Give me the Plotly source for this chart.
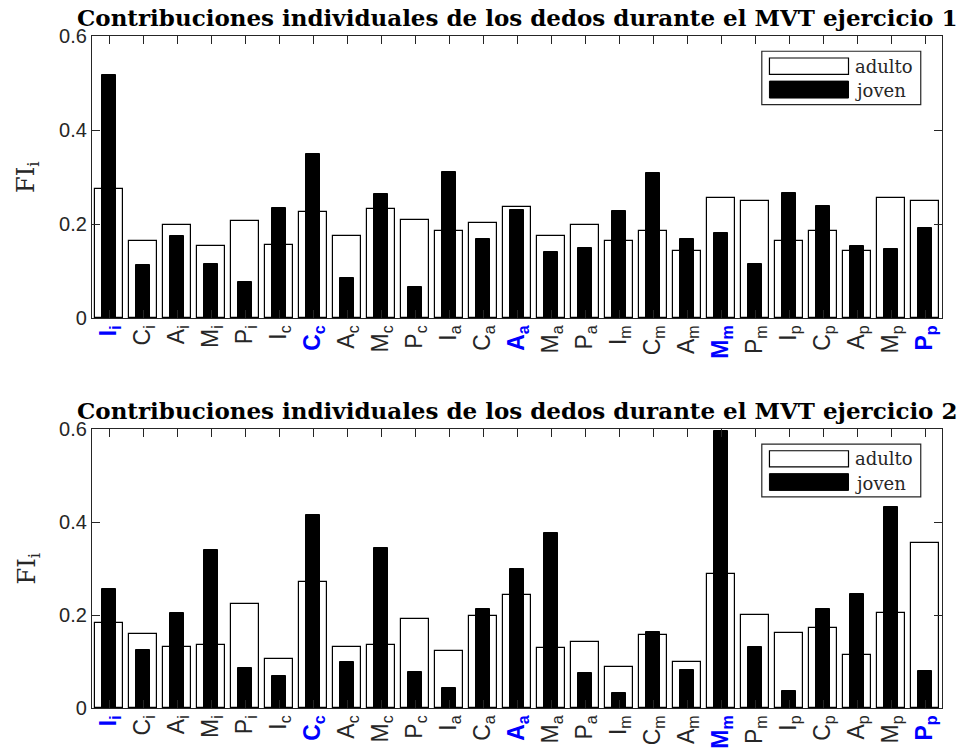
import plotly.graph_objects as go

# ---------------- data ----------------
dedos = ["I", "C", "A", "M", "P"]
subs = ["i", "c", "a", "m", "p"]
categorias = list(range(1, 26))

adulto1 = [0.274, 0.163, 0.197, 0.153, 0.207, 0.155, 0.225, 0.174, 0.232, 0.208,
           0.185, 0.203, 0.236, 0.174, 0.197, 0.163, 0.186, 0.142, 0.255, 0.250,
           0.163, 0.186, 0.142, 0.255, 0.250]
joven1 = [0.517, 0.112, 0.175, 0.115, 0.077, 0.234, 0.348, 0.085, 0.264, 0.067,
          0.311, 0.168, 0.229, 0.141, 0.149, 0.227, 0.308, 0.168, 0.180, 0.114,
          0.266, 0.239, 0.154, 0.146, 0.192]
adulto2 = [0.183, 0.160, 0.132, 0.136, 0.224, 0.106, 0.271, 0.132, 0.135, 0.191,
           0.123, 0.198, 0.243, 0.129, 0.142, 0.089, 0.156, 0.099, 0.289, 0.200,
           0.161, 0.172, 0.114, 0.204, 0.354]
joven2 = [0.255, 0.124, 0.204, 0.339, 0.086, 0.069, 0.415, 0.099, 0.345, 0.078,
          0.044, 0.212, 0.299, 0.377, 0.075, 0.033, 0.163, 0.082, 0.596, 0.132,
          0.037, 0.212, 0.246, 0.432, 0.079]

titulos = ["Contribuciones individuales de los dedos durante el MVT ejercicio 1",
           "Contribuciones individuales de los dedos durante el MVT ejercicio 2"]
ytick_vals = [0, 0.2, 0.4, 0.6]
ytick_text = ["0", "0.2", "0.4", "0.6"]

# tick labels
tick_labels = []
for s in subs:
    for d in dedos:
        if d.lower() == s:
            tick_labels.append(
                "<b><span style='color:#0000ff'>%s<sub>%s</sub></span></b>" % (d, s))
        else:
            tick_labels.append("%s<sub>%s</sub>" % (d, s))

# ---------------- figure ----------------
W, H = 964, 751
ML, MR, MT, MB = 92, 22, 36, 43
PH = H - MT - MB
AX = "#262626"

def ydom(top_px, bot_px):
    return [(H - MB - bot_px) / PH, (H - MB - top_px) / PH]

fig = go.Figure()

series = [(adulto1, joven1, "x", "y"), (adulto2, joven2, "x2", "y2")]
for k, (ad, jo, xa, ya) in enumerate(series):
    fig.add_trace(go.Bar(x=categorias, y=ad, width=0.8, name="adulto",
                         marker=dict(color="white", line=dict(color="black", width=1.2)),
                         xaxis=xa, yaxis=ya, showlegend=False))
    fig.add_trace(go.Bar(x=categorias, y=jo, width=0.44, name="joven",
                         marker=dict(color="black", line=dict(color="black", width=1)),
                         xaxis=xa, yaxis=ya, showlegend=False))

xcommon = dict(range=[0.5, 25.5], tickmode="array", tickvals=categorias,
               ticktext=tick_labels, tickangle=-90, ticks="inside", ticklen=8,
               tickcolor=AX, tickwidth=1, showline=True, linecolor=AX, linewidth=1.2,
               mirror="ticks", showgrid=False, zeroline=False, automargin=False,
               ticklabelstandoff=-3,
               tickfont=dict(family="Liberation Sans", size=23, color=AX))
ycommon = dict(range=[0, 0.6], tickmode="array", tickvals=ytick_vals,
               ticktext=ytick_text, ticks="inside", ticklen=8, tickcolor=AX,
               tickwidth=1, showline=True, linecolor=AX, linewidth=1.2,
               mirror="ticks", showgrid=False, zeroline=False, automargin=False,
               tickfont=dict(family="Liberation Sans", size=20, color=AX))

fig.update_layout(
    width=W, height=H, template="none",
    margin=dict(l=ML, r=MR, t=MT, b=MB, pad=0),
    paper_bgcolor="white", plot_bgcolor="white",
    barmode="overlay", bargap=0,
    xaxis=dict(domain=[0, 1], anchor="y", **xcommon),
    yaxis=dict(domain=ydom(36, 318), anchor="x", **ycommon),
    xaxis2=dict(domain=[0, 1], anchor="y2", **xcommon),
    yaxis2=dict(domain=ydom(429, 708), anchor="x2", **ycommon),
)

shapes = []
annotations = []
for k, (xr, yr) in enumerate([("x domain", "y domain"), ("x2 domain", "y2 domain")]):
    # legend box
    shapes.append(dict(type="rect", xref=xr, yref=yr, x0=0.788, x1=0.975,
                       y0=0.757, y1=0.946, line=dict(color=AX, width=1.2),
                       fillcolor="white", layer="above"))
    shapes.append(dict(type="rect", xref=xr, yref=yr, x0=0.797, x1=0.890,
                       y0=0.864, y1=0.922, line=dict(color="black", width=1.2),
                       fillcolor="white", layer="above"))
    shapes.append(dict(type="rect", xref=xr, yref=yr, x0=0.797, x1=0.890,
                       y0=0.780, y1=0.840, line=dict(color="black", width=1),
                       fillcolor="black", layer="above"))
    annotations.append(dict(text="adulto", xref=xr, yref=yr, x=0.895, y=0.893,
                            xanchor="left", yanchor="middle", showarrow=False,
                            font=dict(family="DejaVu Serif", size=18, color=AX)))
    annotations.append(dict(text="joven", xref=xr, yref=yr, x=0.895, y=0.806,
                            xanchor="left", yanchor="middle", showarrow=False,
                            font=dict(family="DejaVu Serif", size=18, color=AX)))
    # title
    annotations.append(dict(text="<b>%s</b>" % titulos[k], xref=xr, yref=yr,
                            x=0.5, y=1.0, xanchor="center", yanchor="bottom",
                            yshift=3, showarrow=False,
                            font=dict(family="DejaVu Serif", size=23, color="black")))
    # y label
    annotations.append(dict(text="FI<sub>i</sub>", xref=xr, yref=yr,
                            x=0, xshift=-64, y=0.5, xanchor="center", yanchor="middle",
                            textangle=-90, showarrow=False,
                            font=dict(family="DejaVu Serif", size=24, color=AX)))

fig.update_layout(shapes=shapes, annotations=annotations)
fig.write_html("out.html")
